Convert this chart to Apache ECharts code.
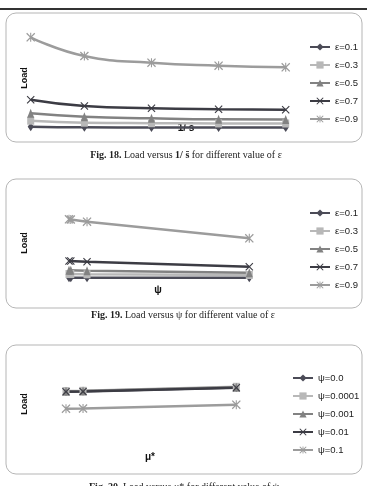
<!DOCTYPE html>
<html><head><meta charset="utf-8">
<script src="https://cdn.jsdelivr.net/npm/echarts@6/dist/echarts.min.js"></script>
<style>html,body{margin:0;padding:0;background:#fff}#c{width:367px;height:486px}</style>
</head><body><div id="c"></div>
<script>
const epsNames = ['ε=0.1','ε=0.3','ε=0.5','ε=0.7','ε=0.9'];
const psiNames = ['ψ=0.0','ψ=0.0001','ψ=0.001','ψ=0.01','ψ=0.1'];

// Fig. 18: Load versus 1/s̄
const fig18X = [0.2, 1, 2, 3, 4];
const fig18_e01 = [1.03, 0.97, 0.96, 0.96, 0.95];
const fig18_e03 = [1.63, 1.43, 1.38, 1.36, 1.35];
const fig18_e05 = [2.37, 2.03, 1.87, 1.77, 1.75];
const fig18_e07 = [3.73, 3.10, 2.87, 2.77, 2.73];
const fig18_e09 = [9.97, 8.10, 7.43, 7.13, 6.97];

// Fig. 19: Load versus psi
const fig19X = [0, 0.0001, 0.001, 0.01];
const fig19_e01 = [1.73, 1.73, 1.72, 1.72];
const fig19_e03 = [2.10, 2.10, 2.07, 2.00];
const fig19_e05 = [2.47, 2.47, 2.43, 2.23];
const fig19_e07 = [3.40, 3.40, 3.33, 2.83];
const fig19_e09 = [7.57, 7.55, 7.33, 5.67];

// Fig. 20: Load versus mu*
const fig20X = [0, 0.001, 0.01];
const fig20_p0 = [6.85, 6.87, 7.25];
const fig20_p00001 = [6.90, 6.92, 7.32];
const fig20_p0001 = [6.88, 6.90, 7.28];
const fig20_p001 = [6.82, 6.84, 7.22];
const fig20_p01 = [5.13, 5.15, 5.53];

const colors = ['#4b4b57', '#b8b8b8', '#828282', '#3c3c44', '#9c9c9c'];
const xPath = 'path://M0,1L1,0L5,4L9,0L10,1L6,5L10,9L9,10L5,6L1,10L0,9L4,5Z';
const starPath = 'path://M0,1L1,0L5,4L9,0L10,1L6,5L10,9L9,10L5,6L1,10L0,9L4,5ZM4.4,0L5.6,0L5.6,10L4.4,10Z';
const symbols = ['diamond', 'rect', 'triangle', xPath, starPath];
const symbolSizes = [[6, 9], [7, 8], [7, 9], [8, 8], [9, 9]];

function pairs(xs, ys) { return xs.map((x, i) => [x, ys[i]]); }
function mk(name, idx, gi, xs, ys, smooth) {
  return {
    type: 'line', name: name, xAxisIndex: gi, yAxisIndex: gi,
    data: pairs(xs, ys), smooth: smooth,
    symbol: symbols[idx], symbolSize: symbolSizes[idx], showSymbol: true,
    lineStyle: { color: colors[idx], width: 2.5 },
    itemStyle: { color: colors[idx] },
    emphasis: { disabled: true }, animation: false
  };
}
const fig18 = [fig18_e01, fig18_e03, fig18_e05, fig18_e07, fig18_e09];
const fig19 = [fig19_e01, fig19_e03, fig19_e05, fig19_e07, fig19_e09];
const fig20 = [fig20_p0, fig20_p00001, fig20_p0001, fig20_p001, fig20_p01];

const series = [];
fig18.forEach((d, i) => series.push(mk(epsNames[i], i, 0, fig18X, d, true)));
fig19.forEach((d, i) => series.push(mk(epsNames[i], i, 1, fig19X, d, false)));
fig20.forEach((d, i) => series.push(mk(psiNames[i], i, 2, fig20X, d, false)));

const hiddenAxis = { axisLine: { show: false }, axisTick: { show: false }, axisLabel: { show: false }, splitLine: { show: false } };
const legendBase = { orient: 'vertical', itemWidth: 20, itemHeight: 9, itemGap: 4,
  textStyle: { fontFamily: 'Liberation Sans', fontSize: 9.5, color: '#222', lineHeight: 14 }, selectedMode: false };

const boxStyle = { fill: 'none', stroke: '#b5b5b5', lineWidth: 1 };
const axisTitle = { fontFamily: 'Liberation Sans', fontWeight: 'bold', fontSize: 9, fill: '#111' };
const capStyle = { fontFamily: 'Liberation Serif', fontSize: 10, fill: '#222',
  rich: { b: { fontFamily: 'Liberation Serif', fontSize: 10, fontWeight: 'bold', fill: '#222' } } };

const option = {
  animation: false,
  grid: [
    { left: 30.7, width: 255, top: 17, height: 120 },
    { left: 69, width: 180.3, top: 185, height: 110 },
    { left: 66, width: 170.3, top: 350, height: 110 }
  ],
  xAxis: [
    Object.assign({ type: 'value', gridIndex: 0, min: 0.2, max: 4 }, hiddenAxis),
    Object.assign({ type: 'value', gridIndex: 1, min: 0, max: 0.01 }, hiddenAxis),
    Object.assign({ type: 'value', gridIndex: 2, min: 0, max: 0.01 }, hiddenAxis)
  ],
  yAxis: [
    Object.assign({ type: 'value', gridIndex: 0, min: 0, max: 12 }, hiddenAxis),
    Object.assign({ type: 'value', gridIndex: 1, min: 0, max: 11 }, hiddenAxis),
    Object.assign({ type: 'value', gridIndex: 2, min: 0, max: 11 }, hiddenAxis)
  ],
  legend: [
    Object.assign({ data: epsNames, left: 304, top: 35 }, legendBase),
    Object.assign({ data: epsNames, left: 304, top: 201 }, legendBase),
    Object.assign({ data: psiNames, left: 287, top: 366 }, legendBase)
  ],
  series: series,
  graphic: [
    { type: 'line', shape: { x1: 0, y1: 9, x2: 367, y2: 9 }, style: { stroke: '#333', lineWidth: 2 }, silent: true },
    { type: 'rect', shape: { x: 6, y: 13, width: 356, height: 129, r: 10 }, style: boxStyle, silent: true },
    { type: 'rect', shape: { x: 6, y: 179, width: 356, height: 129, r: 10 }, style: boxStyle, silent: true },
    { type: 'rect', shape: { x: 6, y: 345, width: 356, height: 129, r: 10 }, style: boxStyle, silent: true },
    { type: 'text', x: 25, y: 78, rotation: Math.PI / 2, style: Object.assign({ text: 'Load', align: 'center', verticalAlign: 'middle' }, axisTitle) },
    { type: 'text', x: 25, y: 243, rotation: Math.PI / 2, style: Object.assign({ text: 'Load', align: 'center', verticalAlign: 'middle' }, axisTitle) },
    { type: 'text', x: 25, y: 404, rotation: Math.PI / 2, style: Object.assign({ text: 'Load', align: 'center', verticalAlign: 'middle' }, axisTitle) },
    { type: 'text', x: 186, y: 128, style: Object.assign({ text: '1/ s̄', align: 'center', verticalAlign: 'middle' }, axisTitle, { fontSize: 10 }) },
    { type: 'text', x: 158, y: 290, style: Object.assign({ text: 'ψ', align: 'center', verticalAlign: 'middle' }, axisTitle, { fontSize: 10 }) },
    { type: 'text', x: 150, y: 457, style: Object.assign({ text: 'μ*', align: 'center', verticalAlign: 'middle' }, axisTitle, { fontSize: 10 }) },
    { type: 'text', x: 186, y: 155, style: Object.assign({ text: '{b|Fig. 18.} Load versus {b|1/ s̄} for different value of ε', align: 'center', verticalAlign: 'middle' }, capStyle) },
    { type: 'text', x: 183, y: 315, style: Object.assign({ text: '{b|Fig. 19.} Load versus ψ for different value of ε', align: 'center', verticalAlign: 'middle' }, capStyle) },
    { type: 'text', x: 184, y: 487, style: Object.assign({ text: '{b|Fig. 20.} Load versus μ* for different value of ψ', align: 'center', verticalAlign: 'middle' }, capStyle) }
  ]
};
const chart = echarts.init(document.getElementById('c'), null, { renderer: 'canvas' });
chart.setOption(option);
</script>
</body></html>
